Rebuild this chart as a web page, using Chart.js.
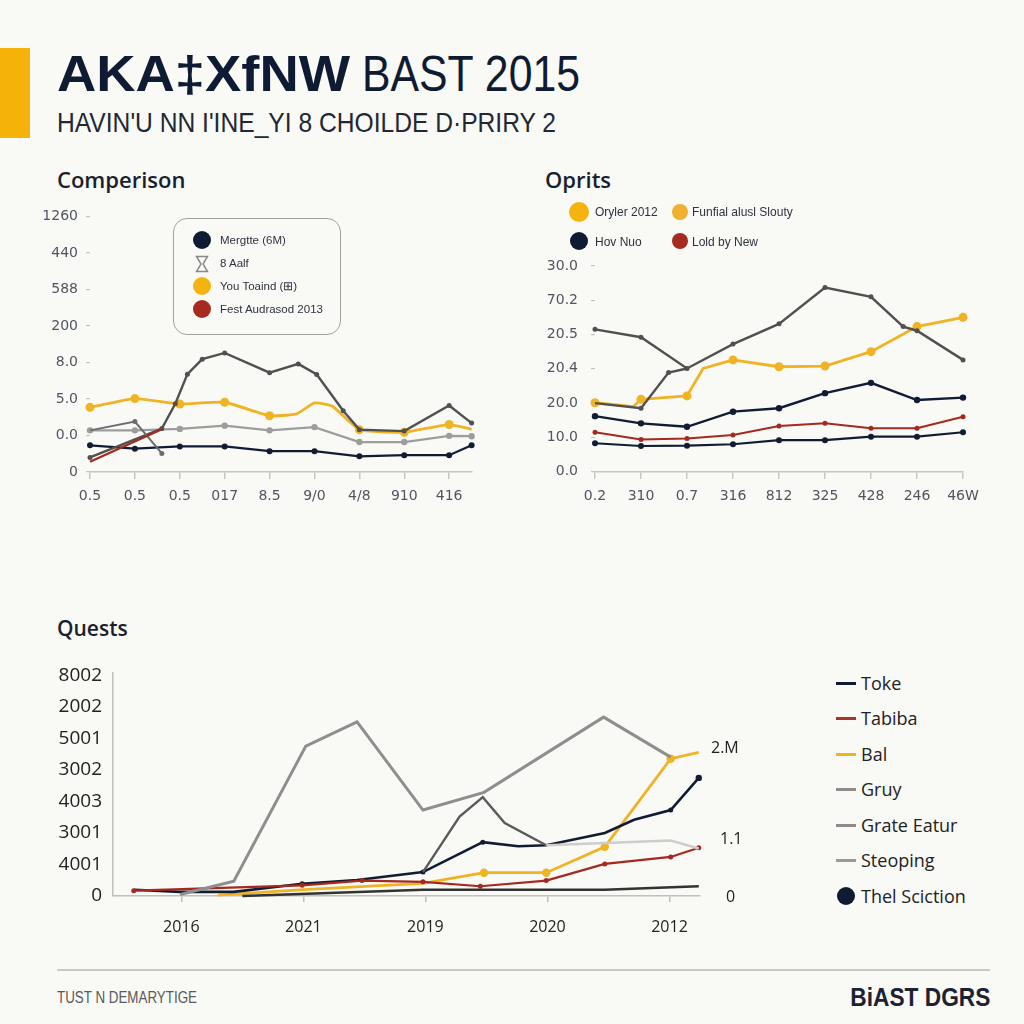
<!DOCTYPE html>
<html>
<head>
<meta charset="utf-8">
<script src="https://cdn.jsdelivr.net/npm/chart.js@4.4.1/dist/chart.umd.min.js"></script>
<style>
  html, body { margin:0; padding:0; background:#f9f9f6; }
  #page { position:relative; width:1024px; height:1024px; overflow:hidden; background:#f9f9f6; font-family:"Liberation Sans", Arial, sans-serif; color:#1a2233; }
  .abs { position:absolute; white-space:nowrap; line-height:1; }
  canvas { position:absolute; }
  .lg1 { position:absolute; font-size:11.5px; color:#2e3340; line-height:1; white-space:nowrap; }
  .dot { position:absolute; border-radius:50%; }
  .lg3 { position:absolute; font-family:"Open Sans", sans-serif; font-size:18px; color:#222; line-height:1; white-space:nowrap; }
  .ln { position:absolute; width:20px; height:3px; }
</style>
</head>
<body>
<div id="page">
  <div class="abs" style="left:0;top:48px;width:30px;height:90px;background:#f5b30a;"></div>
  <div class="abs fit" data-w="293" style="left:57px;top:49px;font-size:50px;font-weight:bold;color:#0f1b33;">AKA‡XfNW</div>
  <div class="abs fit" data-w="218" style="left:362px;top:49px;font-size:50px;color:#0f1b33;">BAST 2015</div>
  <div class="abs fit" data-w="499" style="left:57px;top:109px;font-size:28px;color:#222833;">HAVIN'U NN I'INE_YI 8 CHOILDE D·PRIRY 2</div>

  <div class="abs" style="left:57px;top:168px;font-family:'Open Sans',sans-serif;font-weight:600;font-size:22px;color:#1a1f2e;">Comperison</div>
  <div class="abs" style="left:545px;top:168px;font-family:'Open Sans',sans-serif;font-weight:600;font-size:22px;color:#1a1f2e;">Oprits</div>
  <div class="abs" style="left:57px;top:618px;font-family:'Open Sans',sans-serif;font-weight:600;font-size:21px;color:#1a1f2e;">Quests</div>

  <canvas id="c1" width="470" height="320" style="left:20px;top:200px;"></canvas>
  <canvas id="c2" width="490" height="320" style="left:520px;top:200px;"></canvas>
  <canvas id="c3" width="700" height="300" style="left:20px;top:650px;"></canvas>

  <!-- legend chart 1 -->
  <div style="position:absolute;left:173px;top:218px;width:166px;height:115px;border:1.5px solid #a0a0a0;border-radius:14px;"></div>
  <div class="dot" style="left:193px;top:231px;width:18px;height:18px;background:#0f1b33;"></div>
  <svg style="position:absolute;left:195px;top:255px;" width="14" height="18" viewBox="0 0 14 18"><path d="M1.5 1.5 H12.5 L8 9 L12.5 16.5 H1.5 L6 9 Z" fill="none" stroke="#8a8a8a" stroke-width="1.5"/></svg>
  <div class="dot" style="left:193px;top:277px;width:18px;height:18px;background:#f5b30f;"></div>
  <div class="dot" style="left:193px;top:300px;width:18px;height:18px;background:#a62a1f;"></div>
  <div class="lg1" style="left:220px;top:235px;">Mergtte (6M)</div>
  <div class="lg1" style="left:220px;top:258px;">8 Aalf</div>
  <div class="lg1" style="left:220px;top:281px;">You Toaind (⊞)</div>
  <div class="lg1" style="left:220px;top:304px;">Fest Audrasod 2013</div>

  <!-- legend chart 2 -->
  <div class="dot" style="left:569px;top:202px;width:20px;height:20px;background:#f5b30f;"></div>
  <div class="dot" style="left:672px;top:204px;width:16px;height:16px;background:#f0b030;"></div>
  <div class="dot" style="left:570px;top:232px;width:18px;height:18px;background:#0f1b33;"></div>
  <div class="dot" style="left:672px;top:233px;width:16px;height:16px;background:#a62a1f;"></div>
  <div class="lg1" style="left:595px;top:206px;font-size:12px;">Oryler 2012</div>
  <div class="lg1" style="left:692px;top:206px;font-size:12px;">Funfial alusl Slouty</div>
  <div class="lg1" style="left:595px;top:236px;font-size:12px;">Hov Nuo</div>
  <div class="lg1" style="left:692px;top:236px;font-size:12px;">Lold by New</div>

  <!-- legend chart 3 -->
  <div class="ln" style="left:836px;top:682px;background:#0f1b33;"></div>
  <div class="ln" style="left:836px;top:717px;background:#a8342a;"></div>
  <div class="ln" style="left:836px;top:753px;background:#f0b323;"></div>
  <div class="ln" style="left:836px;top:788px;background:#8c8c8c;"></div>
  <div class="ln" style="left:836px;top:824px;background:#8c8c8c;"></div>
  <div class="ln" style="left:836px;top:859px;background:#9a9a9a;"></div>
  <div class="dot" style="left:837px;top:887px;width:18px;height:18px;background:#0f1b33;"></div>
  <div class="lg3" style="left:861px;top:674px;">Toke</div>
  <div class="lg3" style="left:861px;top:709px;">Tabiba</div>
  <div class="lg3" style="left:861px;top:745px;">Bal</div>
  <div class="lg3" style="left:861px;top:780px;">Gruy</div>
  <div class="lg3" style="left:861px;top:816px;">Grate Eatur</div>
  <div class="lg3" style="left:861px;top:851px;">Steoping</div>
  <div class="lg3" style="left:861px;top:887px;">Thel Sciction</div>

  <!-- end labels chart 3 -->
  <div class="abs" style="left:711px;top:739px;font-family:'Open Sans',sans-serif;font-size:16px;color:#222;">2.M</div>
  <div class="abs" style="left:720px;top:830px;font-family:'Open Sans',sans-serif;font-size:16px;color:#222;">1.1</div>
  <div class="abs" style="left:726px;top:888px;font-family:'Open Sans',sans-serif;font-size:16px;color:#222;">0</div>

  <!-- footer -->
  <div class="abs" style="left:57px;top:969px;width:933px;height:2px;background:#c9c9c9;"></div>
  <div class="abs fit" data-w="140" style="left:57px;top:990px;font-size:16px;color:#5a5a5a;">TUST N DEMARYTIGE</div>
  <div class="abs fitr" data-w="140" style="right:34px;top:984px;font-size:26px;font-weight:bold;color:#1b2233;">BiAST DGRS</div>
</div>

<script>
// ---------- Chart 1 "Comperison" ----------
const c1XLabels = ["0.5","0.5","0.5","017","8.5","9/0","4/8","910","416"];
const c1YLabels = ["0","0.0","5.0","8.0","200","588","440","1260"];
const c1NavyX   = [0,1,2,3,4,5,6,7,8,8.5];
const c1NavyY   = [0.73,0.64,0.70,0.70,0.57,0.57,0.43,0.46,0.46,0.73];
const c1YellowX = [0,1,2,3,4,4.6,5,5.4,6,7,8,8.5];
const c1YellowY = [1.77,2.01,1.86,1.91,1.54,1.59,1.89,1.80,1.16,1.09,1.30,1.17];
const c1DarkX   = [0,1.6,1.9,2.17,2.5,3,4,4.64,5.05,5.64,6,7,8,8.5];
const c1DarkY   = [0.40,1.19,1.87,2.68,3.09,3.26,2.72,2.96,2.67,1.68,1.16,1.12,1.82,1.34];
const c1LightX  = [0,1,2,3,4,5,6,7,8,8.5];
const c1LightY  = [1.14,1.14,1.18,1.27,1.14,1.23,0.82,0.82,0.99,0.98];
const c1MidX    = [0,1,1.6];
const c1MidY    = [1.14,1.38,0.51];
const c1RedX    = [0,1.6];
const c1RedY    = [0.28,1.17];

// ---------- Chart 2 "Oprits" ----------
const c2XLabels = ["0.2","310","0.7","316","812","325","428","246","46W"];
const c2YLabels = ["0.0","10.0","20.0","20.4","20.5","70.2","30.0"];
const c2DarkX   = [0,1,2,3,4,5,6,6.7,7,8];
const c2DarkY   = [4.15,3.92,3.01,3.72,4.31,5.37,5.10,4.23,4.11,3.26];
const c2Dark2X  = [0,1,1.6,2];
const c2Dark2Y  = [2.0,1.85,2.89,3.01];
const c2YellowX = [0,0.83,1,2,2.35,3,4,5,6,7,8];
const c2YellowY = [2.01,1.90,2.11,2.21,3.01,3.26,3.06,3.08,3.50,4.23,4.50];
const c2X       = [0,1,2,3,4,5,6,7,8];
const c2NavyY   = [1.62,1.41,1.31,1.75,1.85,2.29,2.59,2.09,2.16];
const c2RedY    = [1.15,0.94,0.97,1.07,1.33,1.41,1.27,1.27,1.60];
const c2Navy2Y  = [0.83,0.75,0.76,0.80,0.92,0.92,1.02,1.02,1.15];

// ---------- Chart 3 "Quests" ----------
const c3XLabels = ["2016","2021","2019","2020","2012"];
const c3YLabels = ["0","4001","3001","4003","3002","5001","2002","8002"];
const c3GrayX   = [-0.01,0.43,1.02,1.44,1.98,2.48,3.46,4.01];
const c3GrayY   = [0.05,0.47,4.76,5.53,2.73,3.29,5.68,4.41];
const c3YellowX = [0.3,1.0,1.98,2.48,2.99,3.47,4.01,4.24];
const c3YellowY = [0.03,0.2,0.4,0.74,0.74,1.56,4.36,4.56];
const c3NavyX   = [-0.39,-0.01,0.43,0.99,1.44,1.98,2.47,2.76,2.99,3.47,3.71,4.01,4.24];
const c3NavyY   = [0.2,0.13,0.13,0.39,0.51,0.76,1.71,1.58,1.61,2.0,2.42,2.73,3.75];
const c3DarkX   = [1.98,2.28,2.47,2.65,2.99];
const c3DarkY   = [0.76,2.52,3.14,2.32,1.61];
const c3LightX  = [2.99,4.01,4.24];
const c3LightY  = [1.61,1.76,1.51];
const c3RedX    = [-0.39,0.99,1.48,1.98,2.45,2.99,3.47,4.01,4.24];
const c3RedY    = [0.17,0.34,0.49,0.45,0.31,0.49,1.02,1.24,1.53];
const c3BaseX   = [0.5,1.98,3.47,4.24];
const c3BaseY   = [0.0,0.2,0.2,0.31];

const NAVY = "#111c33", YELLOW = "#f0b323", DARK = "#505050", LIGHT = "#9d9d9d", RED = "#a5291f";

function pts(xs, ys) { return xs.map((x, i) => ({ x: x, y: ys[i] })); }
function ds(xs, ys, color, width, radius, extra) {
  return Object.assign({
    data: pts(xs, ys), borderColor: color, backgroundColor: color, borderWidth: width,
    pointRadius: radius, pointHoverRadius: radius, pointBorderWidth: 0, tension: 0, clip: false
  }, extra || {});
}
function intRadius(r, skip) { return ctx => (ctx.raw && Number.isInteger(ctx.raw.x) && !(skip || []).includes(ctx.raw.x)) ? r : 0; }

Chart.defaults.font.family = "'Open Sans', 'Liberation Sans', sans-serif";
Chart.defaults.animation = false;

function baseOpts(cfg) {
  return {
    responsive: false, animation: false,
    layout: { padding: cfg.padding },
    plugins: { legend: { display: false }, tooltip: { enabled: false } },
    scales: {
      x: {
        type: 'linear', min: cfg.xmin, max: cfg.xmax,
        afterBuildTicks: s => { s.ticks = cfg.xLabels.map((_, i) => ({ value: i })); },
        afterFit: s => { s.height = cfg.xh; },
        ticks: { autoSkip: false, maxRotation: 0, padding: cfg.xpad, color: cfg.xColor || cfg.tickColor, font: cfg.xFont || cfg.tickFont,
                 callback: v => cfg.xLabels[v] },
        grid: { drawOnChartArea: false, drawTicks: true, tickLength: cfg.xtl, tickColor: cfg.axisColor, lineWidth: 1.5 },
        border: { display: true, color: cfg.axisColor, width: 1.5 }
      },
      y: {
        type: 'linear', min: 0, max: cfg.ymax,
        afterBuildTicks: s => { s.ticks = cfg.yLabels.map((_, i) => ({ value: i })); },
        afterFit: s => { s.width = cfg.yw; },
        ticks: { autoSkip: false, padding: cfg.ypad, color: cfg.tickColor, font: cfg.tickFont,
                 callback: v => cfg.yLabels[v] },
        grid: { display: cfg.yTicks, drawOnChartArea: false, drawTicks: cfg.yTicks, tickLength: cfg.ytl, tickColor: "#c4c4c4", lineWidth: 1.2 },
        border: { display: cfg.yBorder, color: cfg.axisColor, width: 1.5 }
      }
    }
  };
}

new Chart(document.getElementById('c1'), {
  type: 'line',
  data: { datasets: [
    ds(c1RedX, c1RedY, RED, 2.2, 0),
    ds(c1MidX, c1MidY, "#6c6c6c", 2, [0, 2.5, 2.5]),
    ds(c1DarkX, c1DarkY, DARK, 2.4, 2.5),
    ds(c1LightX, c1LightY, LIGHT, 2.2, 3.2),
    ds(c1NavyX, c1NavyY, NAVY, 2.2, 3),
    ds(c1YellowX, c1YellowY, YELLOW, 2.8, intRadius(4.5, [5]), { tension: 0.15 })
  ]},
  options: baseOpts({
    padding: { top: 13.7, right: 18.4, left: 0, bottom: 0 },
    xmin: 0, xmax: 8.5, xLabels: c1XLabels, yLabels: c1YLabels, ymax: 7,
    xh: 48, yw: 70, xpad: 9, xtl: 7, ypad: 8, ytl: 4, yTicks: true, yBorder: false,
    tickColor: "#505560", axisColor: "#c6c6c6", tickFont: { size: 14, family: "'DejaVu Sans', sans-serif" }
  })
});

new Chart(document.getElementById('c2'), {
  type: 'line',
  data: { datasets: [
    ds(c2Dark2X, c2Dark2Y, DARK, 2.4, [0, 2.5, 2.5, 0]),
    ds(c2DarkX, c2DarkY, DARK, 2.4, 2.5),
    ds(c2X, c2Navy2Y, NAVY, 2.2, 3),
    ds(c2X, c2RedY, RED, 2, 2.5),
    ds(c2X, c2NavyY, NAVY, 2.4, 3.2),
    ds(c2YellowX, c2YellowY, YELLOW, 2.8, intRadius(4.5))
  ]},
  options: baseOpts({
    padding: { top: 65.9, right: 47, left: 0, bottom: 0 },
    xmin: 0, xmax: 8, xLabels: c2XLabels, yLabels: c2YLabels, ymax: 6,
    xh: 48.3, yw: 75, xpad: 9, xtl: 7, ypad: 13, ytl: 4, yTicks: true, yBorder: false,
    tickColor: "#505560", axisColor: "#c6c6c6", tickFont: { size: 14, family: "'DejaVu Sans', sans-serif" }
  })
});

new Chart(document.getElementById('c3'), {
  type: 'line',
  data: { datasets: [
    ds(c3BaseX, c3BaseY, "#333333", 2.4, 0),
    ds(c3GrayX, c3GrayY, "#8e8e8e", 3, 0),
    ds(c3LightX, c3LightY, "#cdcdcd", 2.6, 0),
    ds(c3DarkX, c3DarkY, "#5a5a5a", 2.4, 0),
    ds(c3RedX, c3RedY, RED, 2.2, 2.5),
    ds(c3NavyX, c3NavyY, NAVY, 2.6, [0,0,0,2.5,0,2.5,2.5,0,0,0,0,2.5,3.2]),
    ds(c3YellowX, c3YellowY, YELLOW, 2.8, [0,0,0,4.2,4.2,4.2,4.2,0])
  ]},
  options: baseOpts({
    padding: { top: 13.5, right: 20, left: 0, bottom: 0 },
    xmin: -0.56, xmax: 4.25, xLabels: c3XLabels, yLabels: c3YLabels, ymax: 7.1,
    xh: 54, yw: 93, xpad: 16, xtl: 6, ypad: 11, ytl: 0, yTicks: false, yBorder: true,
    tickColor: "#222", axisColor: "#c0c0c0", tickFont: { size: 19, family: "'Open Sans', sans-serif" },
    xFont: { size: 16, family: "'Open Sans', sans-serif" }
  })
});

// width-fit condensed texts
document.querySelectorAll('.fit, .fitr').forEach(el => {
  el.style.display = 'inline-block';
  const w = el.getBoundingClientRect().width;
  const r = parseFloat(el.dataset.w) / w;
  el.style.transformOrigin = el.classList.contains('fitr') ? 'right top' : 'left top';
  el.style.transform = 'scaleX(' + r + ')';
});
</script>
</body>
</html>
